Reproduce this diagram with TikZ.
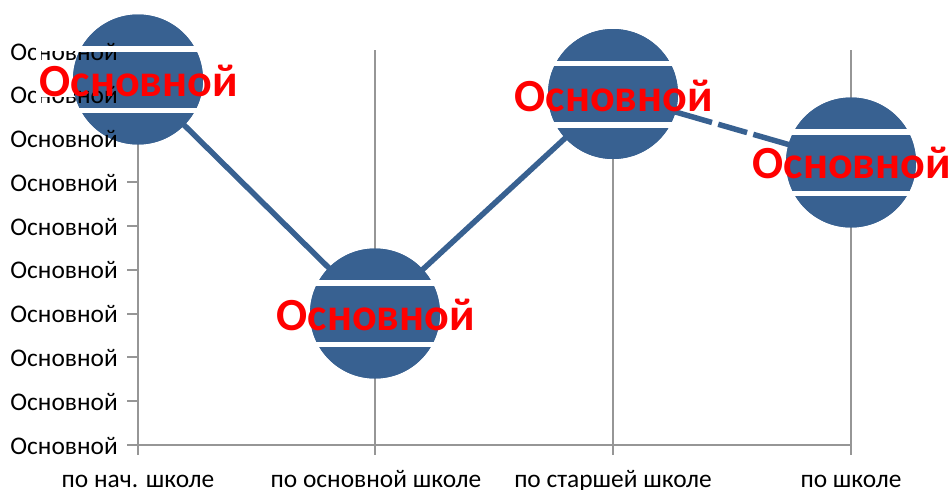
\documentclass[tikz,border=0pt]{standalone}
\usepackage{fontspec}
\setmainfont{Carlito}
\definecolor{ball}{RGB}{56,97,145}
\definecolor{axisc}{RGB}{150,150,150}
\tikzset{x=1pt,y=-1pt,
 ylab/.style={font=\fontsize{25.4}{27}\selectfont,text=black,inner sep=0pt,anchor=base east},
 xlab/.style={font=\fontsize{25.4}{27}\selectfont,text=black,inner sep=0pt,anchor=base},
 biglab/.style={font=\bfseries\fontsize{46}{50}\selectfont,text=red,inner sep=0pt,anchor=base},
 axisline/.style={draw=axisc,line width=1.7pt},
 link/.style={draw=ball,line width=5.5pt},
 ball/.style={circle,fill=ball,draw=none,minimum size=130pt,inner sep=0pt}}
\begin{document}
\begin{tikzpicture}
\useasboundingbox (0,0) rectangle (951,490);
% axes
\coordinate (v1t) at (138,50); \coordinate (v1b) at (138,455);
\coordinate (v2t) at (375,50); \coordinate (v2b) at (375,455);
\coordinate (v3t) at (613,50); \coordinate (v3b) at (613,455);
\coordinate (v4t) at (851,50); \coordinate (v4b) at (851,455);
\coordinate (hl) at (127,445); \coordinate (hr) at (851,445);
\draw[axisline] (v1t)--(v1b); \draw[axisline] (v2t)--(v2b);
\draw[axisline] (v3t)--(v3b); \draw[axisline] (v4t)--(v4b);
\draw[axisline] (hl)--(hr);
\foreach \y in {51,95,138,182,226,270,314,357,401}{\draw[axisline] (127,\y)--(138,\y);}
% x labels
\node[xlab] (xa) at (138,487) {по нач. школе};
\node[xlab] (xb) at (376,487) {по основной школе};
\node[xlab] (xc) at (613,487) {по старшей школе};
\node[xlab] (xd) at (851,487) {по школе};
% balls
\node[ball] (b1) at (138,79.5) {};
\node[ball] (b2) at (375,313.5) {};
\node[ball] (b3) at (613,94) {};
\node[ball] (b4) at (851,162.5) {};
\draw[link] (b1.center)--(b2.center); \draw[link] (b2.center)--(b3.center);
\draw[link,dash pattern=on 103pt off 6.5pt on 30pt off 6.5pt on 120pt off 10pt] (b3.center)--(b4.center);
\node[ball] at (b1) {}; \node[ball] at (b2) {}; \node[ball] at (b3) {}; \node[ball] at (b4) {};
% y labels lie over the first ball
\foreach \y/\n in {60/a,103/b,147/c,191/d,235/e,278/f,322/g,366/h,410/i,454/j}{\node[ylab] (y\n) at (118,\y) {Основной};}
% stripes
\foreach \c/\cy in {138/79.5,375/313.5,613/94,851/162.5}{
 \fill[white] (\c-62,\cy-33.5) rectangle (\c+62,\cy-28);
 \fill[white] (\c-62,\cy+28) rectangle (\c+62,\cy+33.5);}
% white patches behind the first label
\fill[white] (36,46) rectangle (80,51);
\fill[white] (36,51) rectangle (41,62);
\fill[white] (36,82) rectangle (73.5,97);
\fill[white] (36,97) rectangle (41,106);
% big labels
\node[biglab] (l1) at (139,96) {Основной};
\node[biglab] (l2) at (376,330) {Основной};
\node[biglab] (l3) at (614,111) {Основной};
\node[biglab] (l4) at (852,178.5) {Основной};
\end{tikzpicture}
\end{document}
